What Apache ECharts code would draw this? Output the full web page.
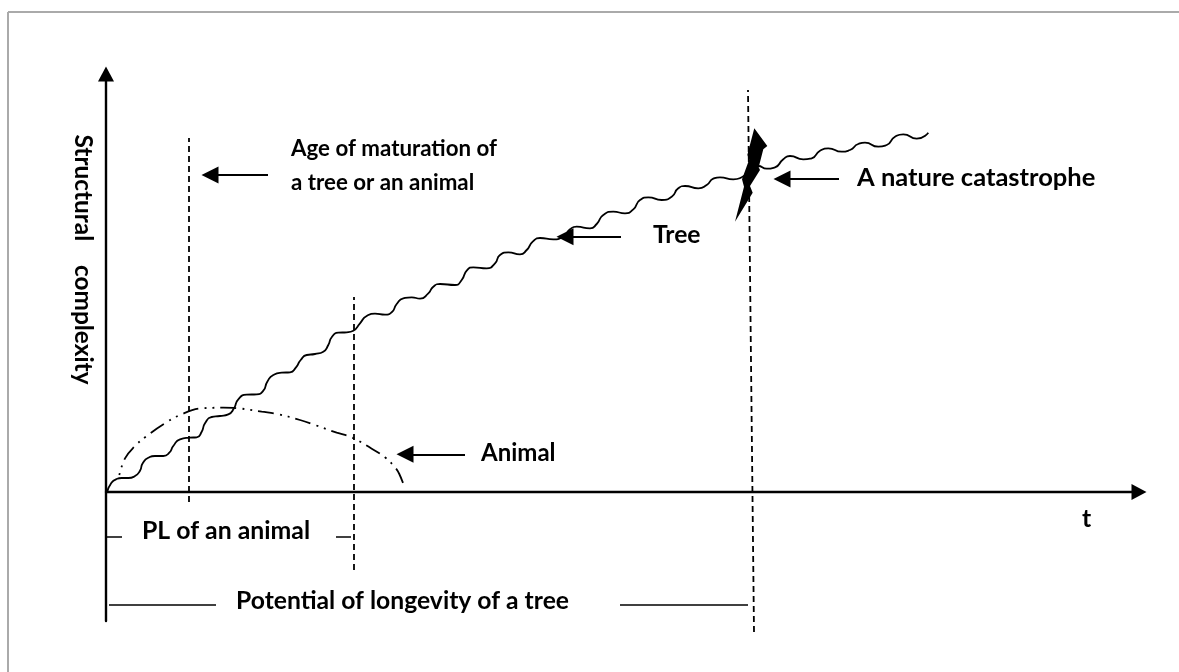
<!DOCTYPE html>
<html>
<head>
<meta charset="utf-8">
<style>
  html, body { margin: 0; padding: 0; background: #fff; }
  #main { width: 1179px; height: 672px; }
</style>
<script src="https://cdn.jsdelivr.net/npm/echarts@6/dist/echarts.min.js"></script>
</head>
<body>
<div id="main"></div>
<script>
// tree curve
const treeT = [1.3,4.7,10,15.7,22.3,29,34,36.7,42.3,49,57.3,63.3,67.3,74,83.3,90.7,95.7,99,105.7,114,122.3,128,132.3,140.7,150.7,157.3,161.3,167.3,175.7,184,190,194.7,200.7,209,217.3,222.3,225.7,232.3,240.7,247.3,254,260.7,269,279,285.7,290.7,297.3,305.7,314,322.3,327.3,334,349,355.7,360.7,367.3,380.7,389,394,402.3,414,420.7,426.7,434,447.3,457.3,464,470.7,484,490.7,497.3,507.3,519,527.3,534,542.3,555.7,565.7,572.3,579,592.3,600.7,607.3,614,627.3,635.7,652.3,660.7,669,677.3,684,697.3,705.7,714,722.3,735.7,744,752.3,759,772.3,780.7,789,797.3,810.7,822.3];
const treeValue = [0.3,8,12.7,14,14,16,21.3,28.7,34.3,36,36,39.3,46,52.7,54.3,54.7,60.3,68.7,75,76,77.7,83.7,92.7,97.3,97.7,101.3,110.3,117,119.3,119.7,124.7,132,137,138,140.3,147,154.7,159.3,159.7,161.3,168.7,176,178.3,177.3,179.7,188,193.7,194.7,193.3,198.7,205.3,208,207,212,221.3,224.7,223.7,228.7,237,239.7,237.7,242,250.3,254,252.7,255.3,262.7,265.3,263.7,268,277,280.3,278.7,282.7,292,294.7,292,295.3,303.7,306,303.7,307,313.3,314.7,312.7,314.7,326,323.3,324.7,332.7,336,332.7,333.7,341.3,343.7,340.3,342,348,349.3,345.3,347,355.3,357.7,353.3,359.3];

// animal curve
const animalT = [13.3,19,28.3,40.7,59,74,95.7,117.3,132.3,155.7,171.3,194,209,230.7,245.7,265,279,289,293.3,299];
const animalValue = [17,33.7,45.3,56,68.7,77,83.7,84.3,83.7,80.3,78,72,67,59.3,54.7,43.7,34.7,24.7,18,3.7];

// dashed verticals: [t bottom, value bottom, t top, value top]
const dashedLines = [
  [83, -10, 83, 354],
  [248, -78, 248, 195],
  [648, -140, 642, 402]
];

// plain dimension strokes below the axis
const spanLines = [
  [0, -45, 16, -45],
  [230, -45, 245, -45],
  [3, -113, 110, -113],
  [514, -113, 642, -113]
];

// arrows: tail then head centre
const arrows = [
  [162, 317, 104, 317],
  [515, 255.3, 459, 255.3],
  [733, 313, 676, 313],
  [359, 37.7, 299, 37.7]
];

// lightning outline
const boltT = [648.3,661.3,657.3,652.7,654,644,646.7,629,638,636,643.3,641.3];
const boltValue = [363.7,346,342.7,324.7,322,306,299.3,270.3,305.3,312.7,332.7,337];

// text labels: t, value, text
const notes = [
  [185, 343, 'Age of maturation of'],
  [185, 309, 'a tree or an animal'],
  [751, 314.7, 'A nature catastrophe'],
  [547, 257, 'Tree'],
  [375, 39, 'Animal'],
  [36, -38.7, 'PL of an animal'],
  [130, -108.7, 'Potential of longevity of a tree'],
  [976, -26.7, 't']
];
const yTitle = 'Structural    complexity';
const yTitleAt = [0, 232];

const noteSizes = [22.3, 22.3, 25.5, 24.7, 24, 24.8, 24.7, 24.7];

const FONT = 'Lato';
const twoPoints = (r) => [[r[0], r[1]], [r[2], r[3]]];

const chart = echarts.init(document.getElementById('main'), null, { renderer: 'canvas' });

const series = [
  {
    name: 'Tree',
    type: 'line',
    smooth: 0.6,
    showSymbol: false,
    silent: true,
    z: 3,
    lineStyle: { color: '#000', width: 1.8 },
    data: treeT.map((t, i) => [t, treeValue[i]])
  },
  {
    name: 'Animal',
    type: 'line',
    smooth: 0.4,
    showSymbol: false,
    silent: true,
    z: 3,
    lineStyle: { color: '#000', width: 1.8, type: [2, 6, 2, 6, 16, 6] },
    data: animalT.map((t, i) => [t, animalValue[i]])
  }
];

dashedLines.forEach((r) => {
  series.push({
    type: 'line',
    showSymbol: false,
    silent: true,
    clip: false,
    z: 2,
    lineStyle: { color: '#000', width: 1.8, type: [6, 4] },
    data: twoPoints(r)
  });
});

spanLines.forEach((r) => {
  series.push({
    type: 'line',
    showSymbol: false,
    silent: true,
    z: 2,
    lineStyle: { color: '#000', width: 1.6 },
    data: twoPoints(r)
  });
});

series.push({
  type: 'lines',
  coordinateSystem: 'cartesian2d',
  silent: true,
  z: 4,
  symbol: ['none', 'triangle'],
  symbolSize: 17,
  lineStyle: { color: '#000', width: 2.2, opacity: 1, curveness: 0 },
  data: arrows.map((r) => ({ coords: twoPoints(r) }))
});

series.push({
  type: 'custom',
  silent: true,
  z: 5,
  coordinateSystem: 'cartesian2d',
  renderItem(params, api) {
    const pts = boltT.map((t, i) => api.coord([t, boltValue[i]]));
    return { type: 'polygon', shape: { points: pts }, style: { fill: '#000' } };
  },
  data: [[boltT[0], boltValue[0]]]
});

series.push({
  type: 'scatter',
  silent: true,
  symbolSize: 0,
  z: 6,
  itemStyle: { opacity: 1 },
  label: {
    show: true,
    position: 'right',
    distance: 0,
    color: '#000',
    opacity: 1,
    fontFamily: FONT,
    fontWeight: 'bold',
    formatter: (p) => p.data.value[2]
  },
  data: notes.map((n, i) => ({ value: n, label: { fontSize: noteSizes[i] } }))
});

series.push({
  type: 'scatter',
  silent: true,
  symbolSize: 1,
  z: 6,
  itemStyle: { color: 'transparent', opacity: 1 },
  label: {
    show: true,
    position: [-23, 0],
    align: 'center',
    verticalAlign: 'middle',
    rotate: -90,
    color: '#000',
    opacity: 1,
    fontFamily: FONT,
    fontWeight: 'bold',
    fontSize: 24.4,
    formatter: yTitle
  },
  data: [yTitleAt]
});

chart.setOption({
  animation: false,
  backgroundColor: '#fff',
  tooltip: { show: false },
  grid: { left: 106, top: 74, width: 1033, height: 547 },
  graphic: [
    { type: 'line', shape: { x1: 8, y1: 12, x2: 1179, y2: 12 }, style: { stroke: '#aaa', lineWidth: 2 } },
    { type: 'line', shape: { x1: 8, y1: 12, x2: 8, y2: 672 }, style: { stroke: '#aaa', lineWidth: 2 } }
  ],
  xAxis: {
    type: 'value',
    min: 0,
    max: 1033,
    splitLine: { show: false },
    axisTick: { show: false },
    axisLabel: { show: false },
    axisLine: {
      onZero: true,
      symbol: ['none', 'triangle'],
      symbolSize: [16, 15],
      lineStyle: { color: '#000', width: 2.4 }
    }
  },
  yAxis: {
    type: 'value',
    min: -129,
    max: 418,
    splitLine: { show: false },
    axisTick: { show: false },
    axisLabel: { show: false },
    axisLine: {
      onZero: true,
      symbol: ['none', 'triangle'],
      symbolSize: [16, 15],
      lineStyle: { color: '#000', width: 2.4 }
    }
  },
  series
});
</script>
</body>
</html>
